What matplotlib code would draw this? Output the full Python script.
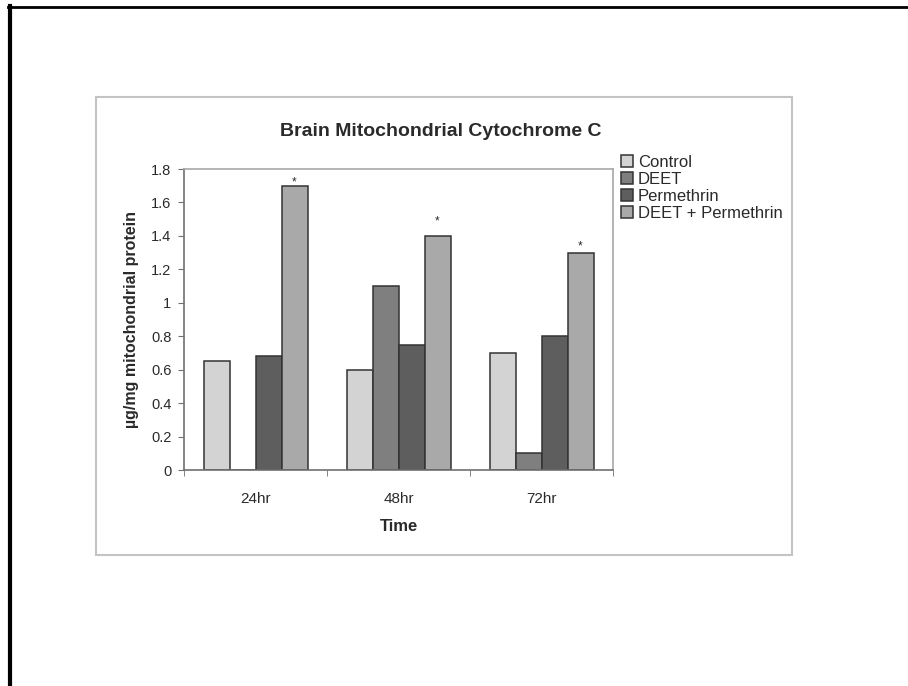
import matplotlib
matplotlib.use("Agg")
import matplotlib.pyplot as plt
import numpy as np
from matplotlib.patches import Rectangle
from matplotlib.lines import Line2D

plt.rcParams['font.family'] = ['Liberation Sans', 'DejaVu Sans']

categories = ["24hr", "48hr", "72hr"]
series_names = ["Control", "DEET", "Permethrin", "DEET + Permethrin"]
control = [0.65, 0.60, 0.70]
deet = [0.0, 1.10, 0.10]
permethrin = [0.68, 0.75, 0.80]
deet_perm = [1.70, 1.40, 1.30]
star_y = [1.70, 1.47, 1.32]  # baseline heights of the significance asterisks
yticks = [0, 0.2, 0.4, 0.6, 0.8, 1, 1.2, 1.4, 1.6, 1.8]
ytick_labels = ["0", "0.2", "0.4", "0.6", "0.8", "1", "1.2", "1.4", "1.6", "1.8"]

colors = ["#d3d3d3", "#7f7f7f", "#5e5e5e", "#a9a9a9"]
edge = "#333333"
txt = "#2a2a2a"

W, H = 908, 686
fig = plt.figure(figsize=(W / 100, H / 100), dpi=100)

# outer scanned page frame
fig.add_artist(Line2D([9.5 / W, 9.5 / W], [0, 1 - 6 / H], transform=fig.transFigure,
                      color="black", lw=3))
fig.add_artist(Line2D([8 / W, 1], [1 - 7 / H, 1 - 7 / H], transform=fig.transFigure,
                      color="black", lw=2))
# chart box
fig.add_artist(Rectangle((96 / W, 1 - 555 / H), (792 - 96) / W, (555 - 97) / H,
                         transform=fig.transFigure, fill=False, edgecolor="#c4c4c4", lw=1.5))

left, right, top, bottom = 184, 613, 169, 470
ax = fig.add_axes([left / W, 1 - bottom / H, (right - left) / W, (bottom - top) / H])

series = [control, deet, permethrin, deet_perm]
n = len(series)
bw = 1 / (n + 1.5)
x = np.arange(len(categories))
for i, (vals, c, name) in enumerate(zip(series, colors, series_names)):
    pos = x - (n * bw) / 2 + bw * (i + 0.5)
    ax.bar(pos, vals, width=bw, color=c, edgecolor=edge, linewidth=1.1, label=name)
    if i == n - 1:
        for p, sy in zip(pos, star_y):
            ax.text(p, sy, "*", ha="center", va="baseline", fontsize=8.5, color=txt)

ax.set_xlim(-0.5, len(categories) - 0.5)
ax.set_ylim(0, 1.8)
ax.set_yticks(yticks)
ax.set_yticklabels(ytick_labels, fontsize=10.5, color=txt)
ax.set_xticks(x)
ax.set_xticklabels(categories, fontsize=11, color=txt)
ax.tick_params(axis="x", length=0, pad=16)
ax.set_xticks(np.arange(len(categories) + 1) - 0.5, minor=True)
ax.tick_params(axis="x", which="minor", length=4, color="#707070", direction="out")
ax.tick_params(axis="y", length=4, color="#707070", direction="out", pad=5)

for s in ["left", "bottom"]:
    ax.spines[s].set_color("#707070")
    ax.spines[s].set_linewidth(1.2)
for s in ["top", "right"]:
    ax.spines[s].set_color("#a8a8a8")
    ax.spines[s].set_linewidth(1.2)

ax.set_xlabel("Time", fontsize=12, fontweight="bold", color=txt, labelpad=9)
ax.set_ylabel("µg/mg mitochondrial protein", fontsize=11.5, fontweight="bold", color=txt, labelpad=9)

fig.text(441 / W, 1 - 132 / H, "Brain Mitochondrial Cytochrome C", ha="center", va="center",
         fontsize=14, fontweight="bold", color=txt)

leg = fig.legend(loc="upper left", bbox_to_anchor=(621 / W, 1 - 155 / H), frameon=False,
                 fontsize=12, handlelength=0.7, handleheight=0.7, handletextpad=0.3,
                 labelspacing=0.12, borderaxespad=0, borderpad=0)
for t in leg.get_texts():
    t.set_color(txt)

fig.savefig("out.png", dpi=100)
